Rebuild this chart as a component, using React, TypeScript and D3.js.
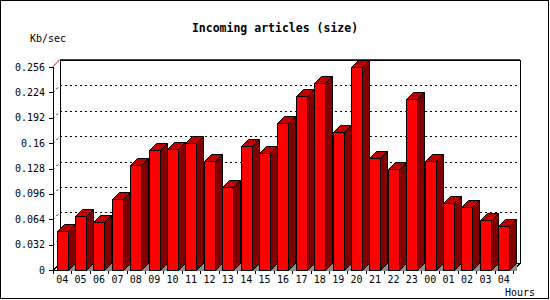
import React from "react";
import * as d3 from "d3";

const hours = ["04","05","06","07","08","09","10","11","12","13","14","15","16","17","18","19","20","21","22","23","00","01","02","03","04"];
const sizes = [0.049,0.0675,0.060,0.090,0.132,0.151,0.153,0.160,0.138,0.105,0.156,0.147,0.186,0.220,0.2355,0.1735,0.256,0.141,0.127,0.2155,0.138,0.084,0.080,0.063,0.056];
const yTickValues = [0,0.032,0.064,0.096,0.128,0.16,0.192,0.224,0.256];
const yTickLabels = ["0","0.032","0.064","0.096","0.128","0.16","0.192","0.224","0.256"];
const title = "Incoming articles (size)";
const yUnit = "Kb/sec";
const xUnit = "Hours";

const W = 550, H = 300;
const X0 = 53, X1 = 513, Y0 = 270, YT = 67, D = 7;
const BAR_OFF = 3.5, BAR_W = 11;
const FONT = "'DejaVu Sans Mono', monospace";

export default function App() {
  const x = d3.scaleBand<number>().domain(d3.range(hours.length)).range([X0, X1]).padding(0);
  const y = d3.scaleLinear().domain([0, 0.256]).range([Y0, YT]);
  const slot = x.bandwidth();

  return (
    <svg width={W} height={H} style={{ position: "absolute", left: 0, top: 0, display: "block", background: "#fff" }}>
      <rect x={0.5} y={0.5} width={548} height={298} fill="#fff" stroke="#000" />
      <text x={275} y={32} textAnchor="middle" fontFamily={FONT} fontWeight="bold" fontSize={11.5} fill="#000">{title}</text>
      <text x={30} y={42} fontFamily={FONT} fontSize={10} fill="#000">{yUnit}</text>
      <text x={505} y={296} fontFamily={FONT} fontSize={10} fill="#000">{xUnit}</text>

      <g shapeRendering="crispEdges">
        {/* back wall */}
        <rect x={X0 + D + 0.5} y={YT - D + 0.5} width={X1 - X0} height={Y0 - YT} fill="#fff" stroke="#000" />
        {/* grid lines */}
        {yTickValues.map((v, i) => {
          const yy = Math.round(y(v));
          if (v === 0) return null;
          const top = i === yTickValues.length - 1;
          return (
            <g key={"g" + i}>
              <line x1={X0 + D} x2={X1 + D} y1={yy - D - (top ? 1 : 0) + 0.5} y2={yy - D - (top ? 1 : 0) + 0.5}
                stroke={top ? "#e00000" : "#000"} strokeDasharray={top ? undefined : "2,3"} />
              <line x1={X0} y1={yy + 0.5 - (top ? 1 : 0)} x2={X0 + D} y2={yy - D + 0.5 - (top ? 1 : 0)}
                stroke={top ? "#e00000" : "#000"} strokeDasharray={top ? undefined : "2,3"} shapeRendering="auto" />
            </g>
          );
        })}
        {/* floor */}
        <line x1={X0} y1={Y0 + 0.5} x2={X1} y2={Y0 + 0.5} stroke="#000" />
        <line x1={X0} y1={Y0 + 0.5} x2={X0 + D} y2={Y0 - D + 0.5} stroke="#000" />
        <line x1={X1} y1={Y0 + 0.5} x2={X1 + D} y2={Y0 - D + 0.5} stroke="#000" />
        {/* y axis */}
        <line x1={X0 + 0.5} y1={YT} x2={X0 + 0.5} y2={Y0 + 1} stroke="#000" />
        {yTickValues.map((v, i) => (
          <line key={"t" + i} x1={X0 - 4} x2={X0} y1={Math.round(y(v)) + 0.5} y2={Math.round(y(v)) + 0.5} stroke="#000" />
        ))}
        {/* x ticks */}
        {d3.range(hours.length + 1).map((i) => {
          const xx = Math.round(X0 + i * slot) + 0.5;
          return <line key={"xt" + i} x1={xx} x2={xx} y1={Y0} y2={Y0 + 4} stroke="#000" />;
        })}
        {/* bars */}
        {sizes.map((v, i) => {
          const bx0 = Math.round((x(i) as number) + BAR_OFF) + 0.5;
          const bx1 = bx0 + BAR_W;
          const top = Math.round(y(v)) + 0.5;
          const bot = Y0 + 0.5;
          return (
            <g key={"b" + i} stroke="#000" strokeLinejoin="miter">
              <polygon points={`${bx1},${bot} ${bx1 + D},${bot - D} ${bx1 + D},${bot}`} fill="#8c8c8c" stroke="none" />
              <polygon points={`${bx1},${top} ${bx1 + D},${top - D} ${bx1 + D},${bot - D} ${bx1},${bot}`} fill="#800000" shapeRendering="auto" />
              <polygon points={`${bx0},${top} ${bx0 + D},${top - D} ${bx1 + D},${top - D} ${bx1},${top}`} fill="#c00000" shapeRendering="auto" />
              <rect x={bx0} y={top} width={BAR_W} height={bot - top} fill="#ff0000" />
            </g>
          );
        })}
      </g>

      {yTickValues.map((v, i) => (
        <text key={"yl" + i} x={45} y={y(v) + 3.5} textAnchor="end" fontFamily={FONT} fontSize={10} fill="#000">{yTickLabels[i]}</text>
      ))}
      {hours.map((h, i) => (
        <text key={"xl" + i} x={(x(i) as number) + slot / 2} y={283} textAnchor="middle" fontFamily={FONT} fontSize={10} fill="#000">{h}</text>
      ))}
    </svg>
  );
}
